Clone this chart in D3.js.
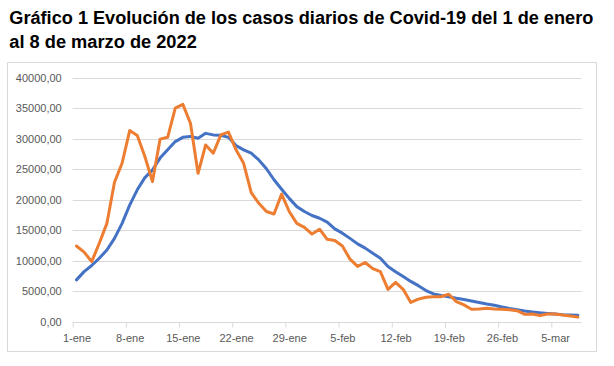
<!DOCTYPE html>
<html>
<head>
<meta charset="utf-8">
<script src="https://cdn.jsdelivr.net/npm/d3@7"></script>
<style>
  body { margin: 0; background: #fff; }
  svg { display: block; }
</style>
</head>
<body>
<div id="chart-area"></div>
<script>
// casos diarios (naranja) y media 7 dias (azul), 1-ene .. 8-mar 2022
var casosDiarios = [12400, 11400, 9850, 12850, 16100, 22850, 25950, 31300, 30500, 27050,
  22950, 29900, 30200, 35000, 35600, 32500, 24300, 28950, 27600, 30600,
  31050, 28150, 25950, 21150, 19400, 18050, 17650, 20900, 18050, 16100,
  15450, 14350, 15150, 13500, 13300, 12400, 10250, 9050, 9700, 8700,
  8200, 5300, 6450, 5300, 3150, 3700, 4000, 4100, 4100, 4500,
  3300, 2750, 2050, 2100, 2200, 2100, 2050, 1950, 1800, 1200,
  1250, 1000, 1250, 1250, 1100, 950, 750];
var mediaMovil = [6850, 8200, 9200, 10400, 11750, 13650, 16100, 19100, 21600, 23600,
  24850, 26800, 28150, 29500, 30200, 30350, 30050, 30850, 30600, 30550,
  30200, 28850, 28150, 27600, 26500, 25050, 23250, 21700, 20200, 18850,
  18050, 17400, 16950, 16300, 15200, 14500, 13650, 12750, 12050, 11200,
  10400, 9050, 8200, 7400, 6600, 5900, 5100, 4550, 4300, 4100,
  3850, 3650, 3400, 3150, 2900, 2700, 2400, 2150, 1950, 1750,
  1600, 1450, 1350, 1250, 1150, 1100, 1050];
var tickLabels = ["1-ene", "8-ene", "15-ene", "22-ene", "29-ene", "5-feb", "12-feb", "19-feb", "26-feb", "5-mar"];
var yTicks = [0, 5000, 10000, 15000, 20000, 25000, 30000, 35000, 40000];

var W = 614, H = 366;
var plot = { left: 72.7, right: 581.7, top: 77.5, bottom: 321.7 };

var svg = d3.select("#chart-area").append("svg")
    .attr("width", W).attr("height", H);

// titulo
var title = svg.append("g")
    .attr("font-family", "Liberation Sans, Arial, sans-serif")
    .attr("font-weight", "bold")
    .attr("font-size", 18)
    .attr("fill", "#000");
title.append("text").attr("x", 9.3).attr("y", 23.5)
    .attr("textLength", 584).attr("lengthAdjust", "spacingAndGlyphs")
    .text("Gráfico 1 Evolución de los casos diarios de Covid-19 del 1 de enero");
title.append("text").attr("x", 9.3).attr("y", 47.5)
    .attr("textLength", 187.5).attr("lengthAdjust", "spacingAndGlyphs")
    .text("al 8 de marzo de 2022");

// marco
svg.append("rect")
    .attr("x", 7.5).attr("y", 62.5)
    .attr("width", 589).attr("height", 289)
    .attr("fill", "none")
    .attr("stroke", "#D9D9D9");

var nDays = casosDiarios.length;

var x = d3.scaleLinear()
    .domain([0, nDays])
    .range([plot.left, plot.right]);

var y = d3.scaleLinear()
    .domain([0, 40000])
    .range([plot.bottom, plot.top]);

// grid
svg.append("g")
  .selectAll("line")
  .data(yTicks.slice(1))
  .enter()
  .append("line")
    .attr("x1", plot.left).attr("x2", plot.right)
    .attr("y1", function(d) { return Math.round(y(d)) + 0.5; })
    .attr("y2", function(d) { return Math.round(y(d)) + 0.5; })
    .attr("stroke", "#D9D9D9")
    .attr("stroke-width", 1);

// eje y (solo etiquetas)
var yAxis = d3.axisLeft(y)
    .tickValues(yTicks)
    .tickSize(0)
    .tickPadding(11)
    .tickFormat(function(d) { return d3.format(".2f")(d).replace(".", ","); });
var yAxisGroup = svg.append("g")
    .attr("transform", "translate(" + plot.left + ",0)")
    .call(yAxis);
yAxisGroup.select(".domain").remove();
yAxisGroup.selectAll("text")
    .attr("font-family", "Liberation Sans, Arial, sans-serif")
    .attr("font-size", 11)
    .attr("fill", "#595959");

// eje x
var xAxis = d3.axisBottom(x)
    .tickValues(d3.range(0, tickLabels.length * 7, 7))
    .tickSize(5)
    .tickFormat(function(d, i) { return tickLabels[i]; });
var xAxisGroup = svg.append("g")
    .attr("transform", "translate(0," + (Math.round(plot.bottom) + 0.5) + ")")
    .call(xAxis);
xAxisGroup.select(".domain")
    .attr("stroke", "#D9D9D9")
    .attr("d", "M" + plot.left + ",0H" + plot.right);
xAxisGroup.selectAll(".tick line").attr("stroke", "#D9D9D9");
xAxisGroup.selectAll(".tick text")
    .attr("x", x(0.5) - x(0))
    .attr("dy", "1.05em")
    .attr("font-family", "Liberation Sans, Arial, sans-serif")
    .attr("font-size", 11)
    .attr("fill", "#595959");

// lineas
var line = d3.line()
    .x(function(d, i) { return x(i + 0.5); })
    .y(function(d) { return y(d); })
    .curve(d3.curveLinear);

svg.append("path")
    .datum(mediaMovil)
    .attr("fill", "none")
    .attr("stroke", "#4472C4")
    .attr("stroke-width", 3)
    .attr("stroke-linejoin", "round")
    .attr("stroke-linecap", "round")
    .attr("d", line);

svg.append("path")
    .datum(casosDiarios)
    .attr("fill", "none")
    .attr("stroke", "#ED7D31")
    .attr("stroke-width", 3)
    .attr("stroke-linejoin", "round")
    .attr("stroke-linecap", "round")
    .attr("d", line);
</script>
</body>
</html>
